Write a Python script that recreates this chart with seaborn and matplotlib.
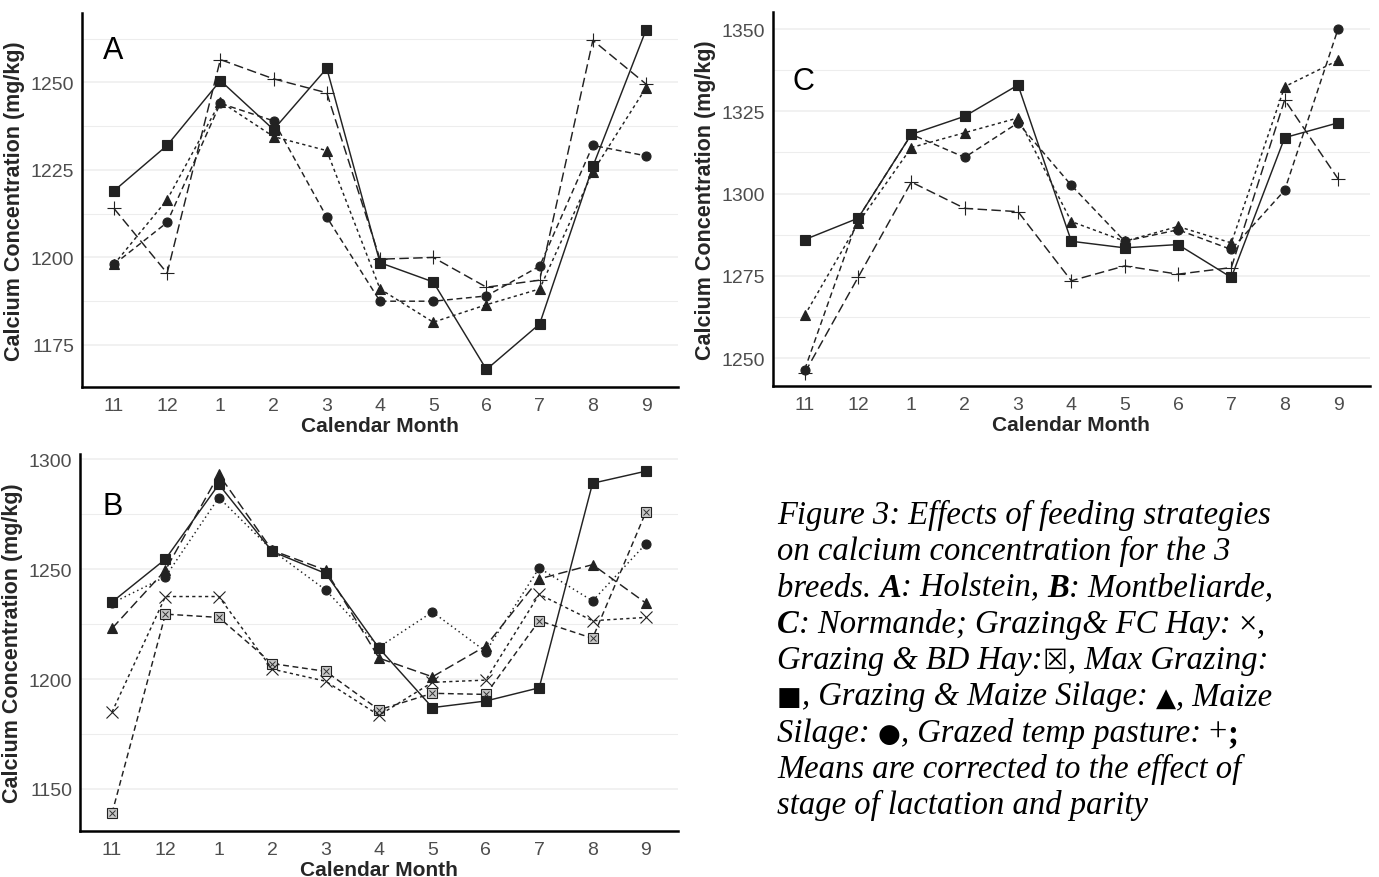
import numpy as np
import pandas as pd
import matplotlib
matplotlib.use("Agg")
import matplotlib.pyplot as plt
import seaborn as sns

months = ["11", "12", "1", "2", "3", "4", "5", "6", "7", "8", "9"]

# Panel A (Holstein)
a_max_grazing = [1219, 1232, 1250.5, 1236.5, 1254, 1198.5, 1193, 1168, 1181, 1226, 1265]
a_graz_maize = [1198, 1216.5, 1244.5, 1234.5, 1230.5, 1191, 1181.5, 1186.5, 1191, 1224.5, 1248.5]
a_maize = [1198, 1210, 1244, 1239, 1211.5, 1187.5, 1187.5, 1189, 1197.5, 1232, 1229]
a_temp_past = [1214, 1195.5, 1256.5, 1251, 1247, 1199.5, 1200, 1191.5, 1193.5, 1262, 1249.5]

# Panel B (Montbeliarde)
b_max_grazing = [1235, 1254.5, 1288.5, 1258, 1248, 1214, 1187, 1190, 1196, 1289, 1294.5]
b_graz_maize = [1223, 1249.5, 1293, 1258.5, 1249.5, 1209.5, 1201, 1215, 1245.5, 1252, 1234.5]
b_maize = [1234.5, 1246.5, 1282.5, 1258.5, 1240.5, 1214.5, 1230.5, 1212.5, 1250.5, 1235.5, 1261.5]
b_fc_hay = [1185, 1237.5, 1237.5, 1204.5, 1199, 1183.5, 1198.5, 1199.5, 1238.5, 1226.5, 1228]
b_bd_hay = [1139, 1229.5, 1228, 1207, 1203.5, 1186, 1193.5, 1193, 1226.5, 1218.5, 1276]

# Panel C (Normande)
c_max_grazing = [1286, 1292.5, 1318, 1323.5, 1333, 1285.5, 1283.5, 1284.5, 1274.5, 1317, 1321.5]
c_graz_maize = [1263, 1291, 1314, 1318.5, 1323, 1291.5, 1285.5, 1290, 1285, 1332.5, 1340.5]
c_maize = [1246.5, 1292.5, 1318, 1311, 1321.5, 1302.5, 1285.5, 1289, 1283, 1301, 1350]
c_temp_past = [1245.5, 1274.5, 1303.5, 1295.5, 1294.5, 1273.5, 1278, 1275.5, 1277.5, 1328.5, 1304.5]

W, H = 1379, 878
fig = plt.figure(figsize=(W / 100, H / 100), dpi=100)
sns.set_style("white")
plt.rcParams["font.family"] = ["Liberation Sans", "DejaVu Sans"]

LC = "#222222"
GRID = "#ededed"


def px_axes(left, top, right, bottom):
    return fig.add_axes([left / W, 1 - bottom / H, (right - left) / W, (bottom - top) / H])


def style_axes(ax, yticks, ylim, letter, lpos):
    ax.set_xlim(-0.6, 10.6)
    ax.set_ylim(*ylim)
    ax.set_xticks(range(len(months)))
    ax.set_xticklabels(months)
    ax.set_yticks(yticks)
    step = yticks[1] - yticks[0]
    minor = [t + step / 2 for t in [yticks[0] - step] + list(yticks)]
    minor = [m for m in minor if ylim[0] <= m <= ylim[1]]
    ax.set_yticks(minor, minor=True)
    ax.grid(False)
    for m in minor:
        ax.axhline(m, color=GRID, lw=0.8, zorder=0)
    for t in yticks:
        ax.axhline(t, color=GRID, lw=1.1, zorder=0)
    ax.tick_params(axis="y", which="minor", length=0)
    ax.tick_params(axis="both", which="major", length=3.5, width=1.0, color="#333333",
                   labelsize=14, labelcolor="#4d4d4d", pad=2)
    ax.tick_params(axis="x", which="major", pad=4)
    for s in ["top", "right"]:
        ax.spines[s].set_visible(False)
    for s in ["left", "bottom"]:
        ax.spines[s].set_linewidth(1.8)
        ax.spines[s].set_color("black")
    ax.set_xlabel("Calendar Month", fontsize=15, fontweight="bold", labelpad=1)
    ax.set_ylabel("Calcium Concentration (mg/kg)", fontsize=15.5, fontweight="bold", labelpad=4)
    ax.text(lpos[0], lpos[1], letter, transform=ax.transAxes, fontsize=22,
            ha="center", va="center", color="black")


def series(ax, vals, ls, marker, ms=6, mfc=LC, mew=0.8):
    x = np.arange(len(months))
    sns.lineplot(x=x, y=vals, ax=ax, color=LC, linewidth=1.05, linestyle=ls,
                 marker=marker, markersize=ms, markerfacecolor=mfc,
                 markeredgecolor=LC, markeredgewidth=mew, zorder=3)


SOLID = "-"
DOT2 = (0, (2.2, 2.2))
DASH = (0, (4, 2.5))
LONG = (0, (6.5, 3))
FINEDOT = (0, (1, 2.2))

# Panel A
axA = px_axes(82, 14, 678, 388)
series(axA, a_temp_past, LONG, "+", ms=10, mfc="none", mew=0.8)
series(axA, a_maize, DASH, "o", ms=6.5)
series(axA, a_graz_maize, DOT2, "^", ms=6.5)
series(axA, a_max_grazing, SOLID, "s", ms=6.5)
style_axes(axA, [1175, 1200, 1225, 1250], (1163, 1269.8), "A", (0.052, 0.9))

# Panel B
axB = px_axes(80, 455, 678, 832)
series(axB, b_bd_hay, DASH, "s", ms=6.5, mfc="#c8c8c8", mew=0.8)
axB.plot(np.arange(len(months)), b_bd_hay, ls="none", marker="x", ms=4.5,
         mec="#333333", mew=0.7, zorder=4)
series(axB, b_fc_hay, DOT2, "x", ms=8, mfc="none", mew=0.8)
series(axB, b_maize, FINEDOT, "o", ms=6.5)
series(axB, b_graz_maize, LONG, "^", ms=6.5)
series(axB, b_max_grazing, SOLID, "s", ms=6.5)
style_axes(axB, [1150, 1200, 1250, 1300], (1130.9, 1302.3), "B", (0.055, 0.862))

# Panel C
axC = px_axes(772.7, 13, 1370, 387)
series(axC, c_temp_past, LONG, "+", ms=10, mfc="none", mew=0.8)
series(axC, c_maize, DASH, "o", ms=6.5)
series(axC, c_graz_maize, DOT2, "^", ms=6.5)
series(axC, c_max_grazing, SOLID, "s", ms=6.5)
style_axes(axC, [1250, 1275, 1300, 1325, 1350], (1241.5, 1355.2), "C", (0.051, 0.816))

# Caption
SERIF = ["Liberation Serif", "DejaVu Serif"]
SYM = ["DejaVu Sans"]
FS = 23.5
it = dict(family=SERIF, style="italic", fontsize=FS)
bi = dict(family=SERIF, style="italic", fontweight="bold", fontsize=FS)
up = dict(family=SERIF, style="normal", fontsize=FS)
sym = dict(family=SYM, style="normal", fontsize=FS * 0.8)
symb = dict(family=SYM, style="normal", fontweight="bold", fontsize=FS * 0.85)
bup = dict(family=SERIF, style="normal", fontweight="bold", fontsize=FS)

lines = [
    [("Figure 3: Effects of feeding strategies", it)],
    [("on calcium concentration for the 3", it)],
    [("breeds. ", it), ("A", bi), (": Holstein, ", it), ("B", bi), (": Montbeliarde,", it)],
    [("C", bi), (": Normande; Grazing& FC Hay: ", it), ("\u00d7", up), (",", it)],
    [("Grazing & BD Hay:", it), ("\u2612", symb), (", Max Grazing:", it)],
    [("\u25a0", sym), (", Grazing & Maize Silage: ", it), ("\u25b2", sym), (", Maize", it)],
    [("Silage: ", it), ("\u25cf", sym), (", Grazed temp pasture: ", it), ("+", up), (";", bup)],
    [("Means are corrected to the effect of", it)],
    [("stage of lactation and parity", it)],
]

renderer = fig.canvas.get_renderer()
x0 = 777
y0 = 524
dy = 36.3
for i, pieces in enumerate(lines):
    xpx = x0
    ypx = y0 + i * dy
    for txt, kw in pieces:
        t = fig.text(xpx / W, 1 - ypx / H, txt, va="baseline", ha="left", color="black", **kw)
        bb = t.get_window_extent(renderer)
        xpx += bb.width

fig.savefig("out.png", dpi=100)
